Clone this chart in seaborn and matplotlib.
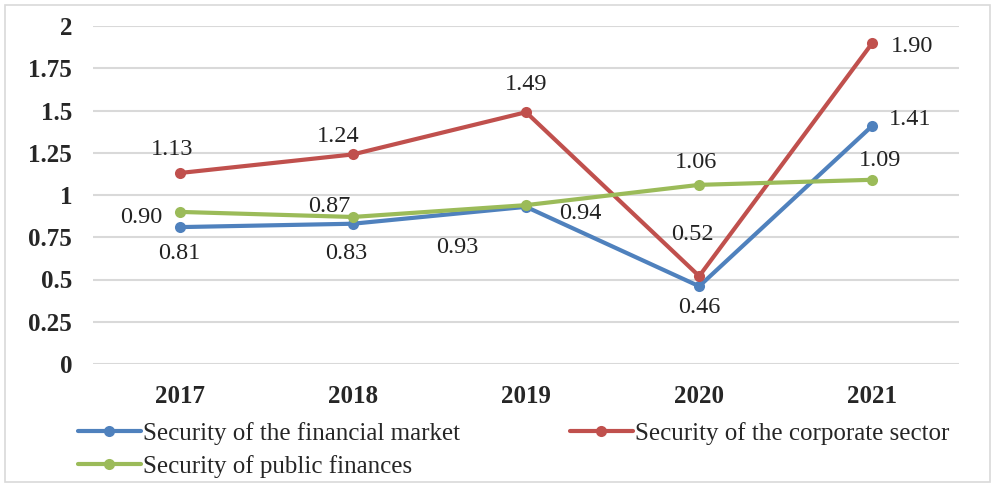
import pandas as pd
import matplotlib.pyplot as plt
import matplotlib.patches as mpatches
import seaborn as sns

# dati
years = ['2017', '2018', '2019', '2020', '2021']
financial_market = [0.81, 0.83, 0.93, 0.46, 1.41]
corporate_sector = [1.13, 1.24, 1.49, 0.52, 1.90]
public_finances = [0.90, 0.87, 0.94, 1.06, 1.09]

series_names = ['Security of the financial market',
                'Security of the corporate sector',
                'Security of public finances']
colors = ['#4F81BD', '#C0504D', '#9BBB59']

# spostamento delle etichette (pixel) rispetto al punto
label_offsets = {
    series_names[0]: [(0, -26), (-7, -30), (-69, -41), (0, -21), (38, 6)],
    series_names[1]: [(-7, 24), (-15, 18), (0, 28), (-7, 42), (40, -4)],
    series_names[2]: [(-38, -6), (-23, 10), (54, -8), (-3, 22), (8, 19)],
}

df = pd.DataFrame({
    'year': years * 3,
    'value': financial_market + corporate_sector + public_finances,
    'series': [series_names[0]] * 5 + [series_names[1]] * 5 + [series_names[2]] * 5,
})

sns.set_theme(style='white')
plt.rcParams['font.family'] = ['Liberation Serif', 'DejaVu Serif']

fig = plt.figure(figsize=(9.96, 4.87), dpi=100)
ax = fig.add_axes([93 / 996, 1 - 364 / 487, (959 - 93) / 996, (364 - 26) / 487])

sns.lineplot(data=df, x='year', y='value', hue='series', hue_order=series_names,
             palette=colors, marker='o', markersize=8, linewidth=3,
             markeredgewidth=0, ax=ax, sort=False)

ax.set_xlim(-0.5, 4.5)
ax.set_ylim(0, 2)
ax.set_yticks([0, 0.25, 0.5, 0.75, 1, 1.25, 1.5, 1.75, 2])
ax.set_yticklabels(['0', '0.25', '0.5', '0.75', '1', '1.25', '1.5', '1.75', '2'])
ax.grid(axis='y', color='#D9D9D9', linewidth=1.5)
ax.set_axisbelow(True)
for s in ax.spines.values():
    s.set_visible(False)
ax.tick_params(axis='y', length=0, pad=15, labelsize=18)
ax.tick_params(axis='x', length=0, pad=15, labelsize=18)
for lab in ax.get_xticklabels() + ax.get_yticklabels():
    lab.set_fontweight('bold')
ax.set_xlabel('')
ax.set_ylabel('')

# etichette dei valori
for name in series_names:
    vals = df[df['series'] == name]['value'].tolist()
    for i, v in enumerate(vals):
        dx, dy = label_offsets[name][i]
        ax.annotate(f'{v:.2f}', (i, v), xytext=(dx, dy), textcoords='offset pixels',
                    ha='center', va='center', fontsize=17.5, color='#222222')

# legenda in ordine per righe
handles, labels = ax.get_legend_handles_labels()
order = [0, 2, 1]
leg = ax.legend([handles[i] for i in order], [labels[i] for i in order], ncol=2,
                loc='upper left', bbox_to_anchor=(78 / 996, 1 - 422 / 487),
                bbox_transform=fig.transFigure, frameon=False, fontsize=18,
                handlelength=2.5, handletextpad=0.1, columnspacing=4.4,
                labelspacing=0.4, borderaxespad=0, borderpad=0)

fig.patches.append(mpatches.Rectangle((5 / 996, 5 / 487), 985 / 996, 477 / 487,
                                      transform=fig.transFigure, fill=False,
                                      edgecolor='#D9D9D9', linewidth=1.2))

fig.savefig('out.png', dpi=100)
